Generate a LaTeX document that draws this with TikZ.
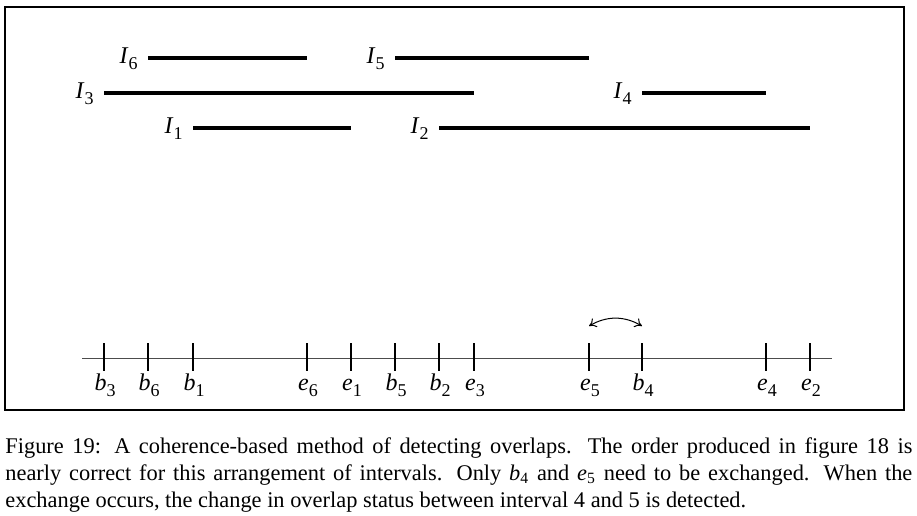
\documentclass[tikz,border=0pt]{standalone}
\usepackage{fontspec}
\setmainfont{Liberation Serif}
\usetikzlibrary{arrows.meta}
\newcommand\lowidx[1]{\raisebox{-0.55ex}{\fontsize{9}{9}\selectfont #1}}

\begin{document}
\begin{tikzpicture}[x=0.5pt,y=-0.5pt,
    seg/.style={line width=1.6pt},
    tick/.style={line width=0.7pt},
    lbl/.style={inner sep=0pt,font=\fontsize{12}{14}\selectfont}]
  \useasboundingbox (0,0) rectangle (917,515);
  \draw[line width=1pt] (5,7) rectangle (904,410);
  \coordinate (axL) at (82,358);
  \coordinate (axR) at (832,358);
  \draw[line width=0.5pt,black!70] (axL) -- (axR);
  \foreach \ch/\k/\xx in {b/3/104,b/6/148,b/1/193,e/6/307,e/1/351,b/5/395,b/2/439,e/3/474,e/5/589,b/4/642,e/4/766,e/2/810}{
    \coordinate (\ch\k) at (\xx,358);
    \draw[tick] (\ch\k) ++(0,-15) -- ++(0,28);
    \node[lbl,anchor=base] (l\ch\k) at (\xx+1,390) {\textit{\ch}\lowidx{\k}};
  }
  \foreach \k/\a/\b/\yy in {6/b6/e6/58,5/b5/e5/58,3/b3/e3/93,4/b4/e4/93,1/b1/e1/128,2/b2/e2/128}{
    \coordinate (s\k) at (\a |- 0,\yy);
    \coordinate (t\k) at (\b |- 0,\yy);
    \draw[seg] (s\k) -- (t\k);
    \node[lbl,anchor=base east] (I\k) at ([xshift=-5pt,yshift=-2.8pt]s\k) {\textit{I}\lowidx{\k}};
  }
  \coordinate (swL) at (589,326);
  \coordinate (swR) at (642,326);
  \draw[line width=0.5pt,{To[length=3.5pt,width=5pt]}-{To[length=3.5pt,width=5pt]}] (swL) to[bend left=30] (swR);
  \node[inner sep=0pt,anchor=north west,text width=453.5pt,align=justify,
        font=\fontsize{11.2}{13.6}\selectfont] (cap) at (5,437)
    {Figure 19: A coherence-based method of detecting overlaps. The order produced in figure 18 is\linebreak
     nearly correct for this arrangement of intervals. Only \textit{b}\textsubscript{4} and \textit{e}\textsubscript{5} need to be exchanged. When the\linebreak
     exchange occurs, the change in overlap status between interval 4 and 5 is detected.};
\end{tikzpicture}
\end{document}
